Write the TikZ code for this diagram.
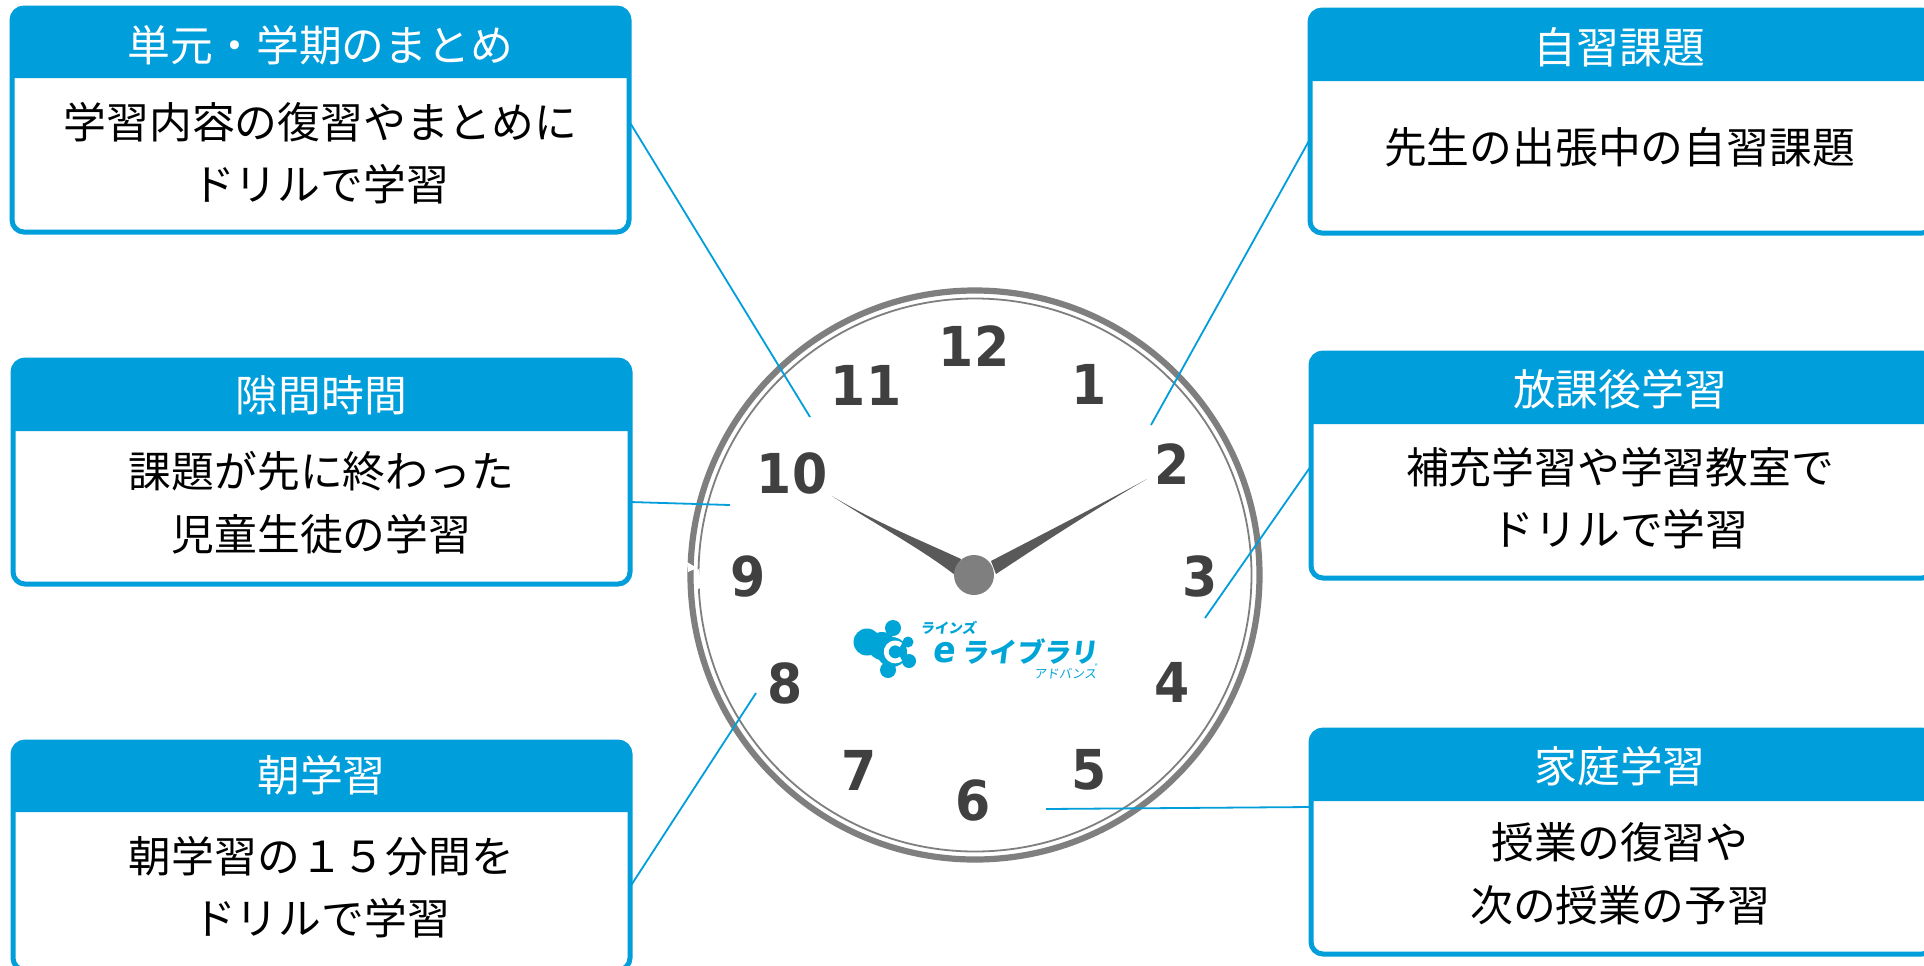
\documentclass[tikz,border=0pt]{standalone}
\usepackage{fontspec}
\usepackage{xcolor}
\setmainfont{Noto Sans CJK JP}
\newfontfamily\numfont{DejaVu Sans}[FakeStretch=0.92]
\usetikzlibrary{positioning,arrows.meta}
\definecolor{cardblue}{HTML}{009EDB}
\definecolor{logoblue}{HTML}{00A5D8}
\definecolor{rimgrey}{HTML}{7F7F7F}
\definecolor{handgrey}{HTML}{595959}
\definecolor{numgrey}{HTML}{404040}

\begin{document}
\begin{tikzpicture}[x=0.5pt, y=-0.5pt,
    cardbody/.style={draw=cardblue, line width=2.5pt, fill=white, rounded corners=6pt},
    cardtitle/.style={text=white, font=\fontsize{21.4}{25}\selectfont, inner sep=0pt},
    cardtext/.style={text=black, align=center, font=\fontsize{21.4}{31.3}\selectfont, inner sep=0pt},
    numeral/.style={text=numgrey, font=\fontsize{27.5}{30}\selectfont\numfont\bfseries, inner sep=0pt},
    link/.style={draw=cardblue, line width=0.9pt},
    logotext/.style={text=logoblue, inner sep=0pt, font=\bfseries, xslant=0.12, transform shape}]
    \useasboundingbox (0,0) rectangle (1924,965);
    \fill[white] (0,0) rectangle (1924,965);

    % Cards
    \foreach \name/\xa/\xb/\ya/\yh/\yb/\ytitle/\ytext/\title/\body in {
        unit/12/629/8/78/232/45/153/{単元・学期のまとめ}/{学習内容の復習やまとめに\\ドリルで学習},
        spare/13/630/360/431/584/395/503/{隙間時間}/{課題が先に終わった\\児童生徒の学習},
        morning/13/630/742/812/970/775/887/{朝学習}/{朝学習の１５分間を\\ドリルで学習},
        self/1310/1934/10/81/233/47/147/{自習課題}/{先生の出張中の自習課題},
        after/1311/1934/353/424/578/389/498/{放課後学習}/{補充学習や学習教室で\\ドリルで学習},
        home/1311/1934/730/801/954/766/874/{家庭学習}/{授業の復習や\\次の授業の予習}} {
        \path[cardbody] (\xa,\ya) rectangle (\xb,\yb);
        \fill[cardblue] (\xa,\yh) [rounded corners=6pt] -- (\xa,\ya) -- (\xb,\ya) [sharp corners] -- (\xb,\yh) -- cycle;
        \node[cardtitle] (title\name) at ({(\xa+min(\xb,1929))/2},\ytitle) {\title};
        \node[cardtext] (text\name) at ({(\xa+min(\xb,1929))/2},\ytext) {\body};
        \coordinate (card\name) at (\xa,\yh);
        \coordinate (edge\name) at (\xb,\yh);
    }

    % Clock
    \node[circle, draw=rimgrey, line width=3.1pt, minimum size=284.5pt, inner sep=0pt, fill=white] (rim) at (975,575) {};
    \node[circle, draw=rimgrey, line width=0.9pt, minimum size=276.5pt, inner sep=0pt] (rimin) at (975,575) {};
    % notch at nine
    \fill[white] (687,562) -- (697,568) -- (688,572) -- cycle;
    \fill[white] (694,572) -- (699,569) -- (701,587) -- (697,590) -- cycle;
    \foreach \num/\x/\y in {12/974/346, 11/866/385, 1/1089/384, 10/792/473, 2/1172/464, 9/748/576,
        3/1200/576, 8/785/683, 4/1172/682, 7/859/770, 5/1089/770, 6/973/800}
        \node[numeral] (num\num) at (\x,\y) {\num};

    % Hands
    \fill[handgrey] (832,496) .. controls (875,522) and (920,540) .. (961,559) -- (955,575) .. controls (920,548) and (875,524) .. cycle;
    \fill[handgrey] (1147,479) .. controls (1090,510) and (1035,538) .. (991,561) -- (996,574) .. controls (1040,545) and (1090,512) .. cycle;
    \node[circle, fill=rimgrey, minimum size=20pt, inner sep=0pt] (hub) at (974,575) {};

    % Logo
    \fill[logoblue] (867,642) circle (13.5) (893,628) circle (8) (888,670) circle (8) (909,661) circle (7) (908,642) circle (5.5)
        (882,646) circle (14) (892,652) circle (15);
    \draw[white, line width=2.4pt] (901,645) arc (-50:-310:9);
    \fill[logoblue] (899,650) circle (2.6);
    \node[logotext, font=\bfseries\fontsize{7}{8}\selectfont] (logotop) at (949,628) {ラインズ};
    \node[logotext, font=\numfont\bfseries\fontsize{18}{18}\selectfont, xslant=0] (logoe) at (945,653) {e};
    \node[logotext, font=\bfseries\fontsize{13.6}{14}\selectfont] (logoname) at (1031,652) {ライブラリ};
    \node[logotext, font=\fontsize{6.2}{7}\selectfont, xslant=0] (logosub) at (1066,674) {アドバンス};
    \node[logotext, font=\fontsize{3}{3}\selectfont, xslant=0] (logoreg) at (1096,666) {®};

    % Connectors
    \coordinate (endunit) at (810,417);
    \coordinate (endspare) at (730,505);
    \coordinate (endmorning) at (756,693);
    \coordinate (endself) at (1151,425);
    \coordinate (endafter) at (1205,618);
    \coordinate (endhome) at (1046,809);
    \draw[link] (edgeunit) ++(0,43) -- (endunit);
    \draw[link] (edgespare) ++(0,71) -- (endspare);
    \draw[link] (edgemorning) ++(0,75) -- (endmorning);
    \draw[link] (cardself) ++(0,58) -- (endself);
    \draw[link] (cardafter) ++(0,42) -- (endafter);
    \draw[link] (cardhome) ++(0,6) -- (endhome);
\end{tikzpicture}
\end{document}
